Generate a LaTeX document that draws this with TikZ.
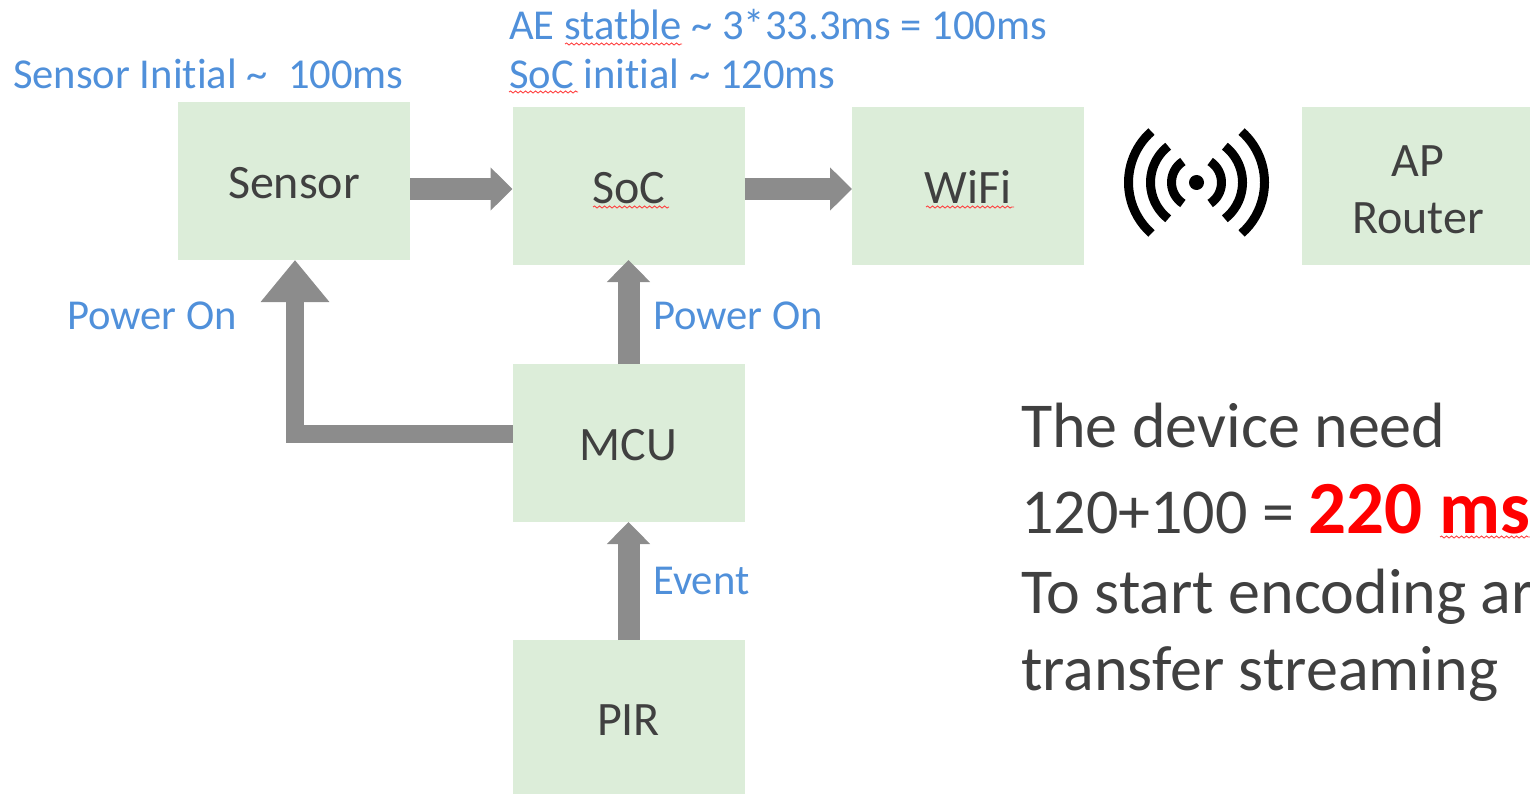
\documentclass[tikz,border=0pt]{standalone}
\usepackage{fontspec}
\setmainfont[Ligatures=NoCommon]{Carlito}
\usetikzlibrary{arrows.meta,decorations.pathmorphing}
\definecolor{blockgreen}{HTML}{DCEDD9}
\definecolor{arrowgray}{HTML}{8C8C8C}
\definecolor{labelblue}{HTML}{5090DA}
\definecolor{textgray}{HTML}{404040}
\tikzset{
  blockbox/.style={fill=blockgreen,text=textgray,font=\fontsize{48}{57}\selectfont,align=center,inner sep=0pt,outer sep=0pt,minimum width=232pt,minimum height=158pt},
  thinarrow/.style={draw=arrowgray,line width=22pt,-{Triangle[length=22pt,width=42pt]}},
  widearrow/.style={draw=arrowgray,line width=18pt,miter limit=10,-{Triangle[length=42pt,width=66pt]}},
  bluelabel/.style={anchor=base west,inner sep=0pt,text=labelblue,font=\fontsize{42.6}{50}\selectfont},
  noteline/.style={anchor=base west,inner sep=0pt,text=textgray,font=\fontsize{64}{76}\selectfont},
  wavyline/.style={draw=red!75,line width=0.9pt,decorate,decoration={snake,amplitude=1pt,segment length=5pt}}
}
\begin{document}
\begin{tikzpicture}[x=1pt,y=-1pt]
  \useasboundingbox (0,0) rectangle (1530,794);
  \clip (0,0) rectangle (1530,794);
  % blocks
  \node[blockbox,text height=36pt,text depth=0pt] (sensor) at (294,181) {Sensor};
  \node[blockbox,text height=36pt,text depth=0pt] (soc) at (628.5,186) {SoC};
  \node[blockbox,text height=36pt,text depth=0pt] (wifi) at (968,186) {WiFi};
  \node[blockbox] (router) at (1418,186) {\rule{0pt}{38pt}AP\\Router};
  \node[blockbox,text height=34pt,text depth=0pt] (mcu) at (628.5,443) {MCU};
  \node[blockbox,minimum height=154pt,text height=36pt,text depth=0pt] (pir) at (628.5,717) {PIR};
  % arrows
  \draw[thinarrow] ([yshift=-8pt]sensor.east) -- ([yshift=-3pt]soc.west);
  \draw[thinarrow] ([yshift=-3pt]soc.east) -- ([yshift=-3pt]wifi.west);
  \draw[thinarrow,shorten >=-5pt] (mcu.north) -- (soc.south);
  \draw[thinarrow] (pir.north) -- (mcu.south);
  \draw[widearrow] ([yshift=9pt]mcu.west) -| ([xshift=1pt]sensor.south);
  % labels
  \node[bluelabel] (sensornote) at (13,89) {Sensor Initial \textasciitilde\hspace{0.25em} 100ms};
  \node[bluelabel] (aenote) at (509,40) {AE statble \textasciitilde{} 3*33.3ms = 100ms};
  \node[bluelabel] (socnote) at (509,89) {SoC initial \textasciitilde{} 120ms};
  \node[bluelabel] (poweronleft) at (67,329) {Power On};
  \node[bluelabel] (poweronright) at (653,329) {Power On};
  \node[bluelabel] (eventnote) at (653,594) {Event};
  % note on the right
  \node[noteline] (noteone) at (1021,447) {The device need};
  \node[noteline] (notetwo) at (1021,533) {120+100 = \textcolor{red}{\fontsize{75}{80}\selectfont\bfseries 220 ms}};
  \node[noteline] (notethree) at (1021,613) {To start encoding ar};
  \node[noteline] (notefour) at (1021,690) {transfer streaming};
  % spell check marks
  \draw[wavyline] (565,44) -- (682,44);
  \draw[wavyline] (509,92) -- (578,92);
  \draw[wavyline] (593,207) -- (669,207);
  \draw[wavyline] (926,207) -- (1014,207);
  \draw[wavyline] (1440,537) -- (1530,537);
  % antenna
  \fill (1196.5,182.5) circle (7.5);
  \foreach \rad/\ang in {25/57,46/52,68/48.5} {
    \draw[line width=9pt] ({1196.5+\rad*cos(\ang)},{182.5-\rad*sin(\ang)}) arc[start angle=\ang,end angle=-\ang,radius=\rad pt];
    \draw[line width=9pt] ({1196.5-\rad*cos(\ang)},{182.5-\rad*sin(\ang)}) arc[start angle=180-\ang,end angle=180+\ang,radius=\rad pt];
  }
\end{tikzpicture}
\end{document}
